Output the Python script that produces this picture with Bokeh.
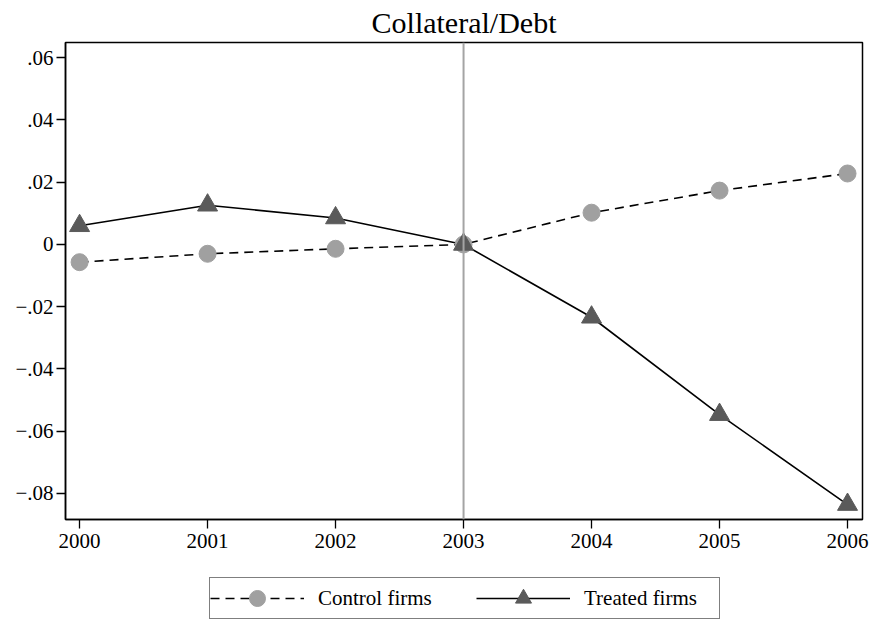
from bokeh.plotting import figure
from bokeh.layouts import column
from bokeh.models import Range1d, FixedTicker, Span, Legend, LegendItem
from bokeh.embed import file_html
from bokeh.resources import INLINE

years = [2000, 2001, 2002, 2003, 2004, 2005, 2006]
control = [-0.0057, -0.0030, -0.0014, 0.0, 0.0102, 0.0173, 0.0228]
treated = [0.0060, 0.0126, 0.0085, 0.0, -0.0234, -0.0547, -0.0836]
event_year = 2003
y_ticks = [-0.08, -0.06, -0.04, -0.02, 0.0, 0.02, 0.04, 0.06]
y_tick_labels = ["\u2212.08", "\u2212.06", "\u2212.04", "\u2212.02", "0", ".02", ".04", ".06"]
title_text = "Collateral/Debt"
series_names = ["Control firms", "Treated firms"]

FONT = "Liberation Serif"
C_GRAY = "#a0a0a0"
T_GRAY = "#5a5a5a"

p = figure(width=873, height=560, output_backend="svg", toolbar_location=None,
           x_range=Range1d(1999.89, 2006.117), y_range=Range1d(-0.0884, 0.0649),
           min_border_left=65, min_border_right=11, min_border_top=0, min_border_bottom=41)

p.title.text = title_text
p.title.align = "center"
p.title.text_font = FONT
p.title.text_font_size = "30px"
p.title.text_font_style = "normal"
p.title.text_color = "black"
p.title.standoff = 7

p.xgrid.visible = False
p.ygrid.visible = False
p.outline_line_color = "black"
p.outline_line_width = 1.5
p.background_fill_color = "white"
p.border_fill_color = "white"

for ax in (p.xaxis[0], p.yaxis[0]):
    ax.axis_line_color = "black"
    ax.axis_line_width = 1.5
    ax.major_tick_line_color = "black"
    ax.major_tick_line_width = 1.3
    ax.major_tick_out = 9
    ax.major_tick_in = 0
    ax.minor_tick_line_color = None
    ax.major_label_text_font = FONT
    ax.major_label_text_font_size = "21px"
    ax.major_label_text_color = "black"

p.xaxis.ticker = FixedTicker(ticks=years)
p.xaxis.major_label_standoff = 5
p.yaxis.ticker = FixedTicker(ticks=y_ticks)
p.yaxis.major_label_overrides = {t: l for t, l in zip(y_ticks, y_tick_labels)}
p.yaxis.major_label_standoff = 3

vline = Span(location=event_year, dimension="height", line_color="#a4a4a4", line_width=2)
p.add_layout(vline)

p.line(years, control, line_color="black", line_width=1.6, line_dash="9 6")
p.line(years, treated, line_color="black", line_width=1.6)
p.scatter(years, control, marker="circle", size=17, fill_color=C_GRAY, line_color=C_GRAY)
p.scatter(years, treated, marker="triangle", size=20, fill_color=T_GRAY, line_color=T_GRAY)

# legend strip below the chart (its own small figure, glyphs lie outside its ranges)
lg = figure(width=873, height=61, output_backend="svg", toolbar_location=None,
            x_range=Range1d(0, 1), y_range=Range1d(0, 1),
            x_axis_type=None, y_axis_type=None,
            min_border_left=0, min_border_right=0, min_border_top=0, min_border_bottom=0)
lg.xgrid.visible = False
lg.ygrid.visible = False
lg.outline_line_color = None
lg.background_fill_color = "white"
lg.border_fill_color = "white"
c_line = lg.line(years, control, line_color="black", line_width=1.6, line_dash="9 6")
t_line = lg.line(years, treated, line_color="black", line_width=1.6)
c_pts = lg.scatter(years, control, marker="circle", size=17, fill_color=C_GRAY, line_color=C_GRAY)
t_pts = lg.scatter(years, treated, marker="triangle", size=20, fill_color=T_GRAY, line_color=T_GRAY)

legend = Legend(items=[LegendItem(label=series_names[0], renderers=[c_line, c_pts]),
                       LegendItem(label=series_names[1], renderers=[t_line, t_pts])],
                orientation="horizontal", location=(144, 2))
legend.label_text_font = FONT
legend.label_text_font_size = "21px"
legend.label_text_color = "black"
legend.glyph_width = 94
legend.glyph_height = 40
legend.label_standoff = 14
legend.label_width = 135
legend.spacing = 23
legend.padding = 0
legend.margin = 0
legend.border_line_color = "black"
legend.border_line_width = 1
legend.background_fill_color = "white"
legend.background_fill_alpha = 1
lg.add_layout(legend, "center")

layout = column(p, lg, spacing=0)

open("out.html", "w").write(file_html(layout, INLINE))
